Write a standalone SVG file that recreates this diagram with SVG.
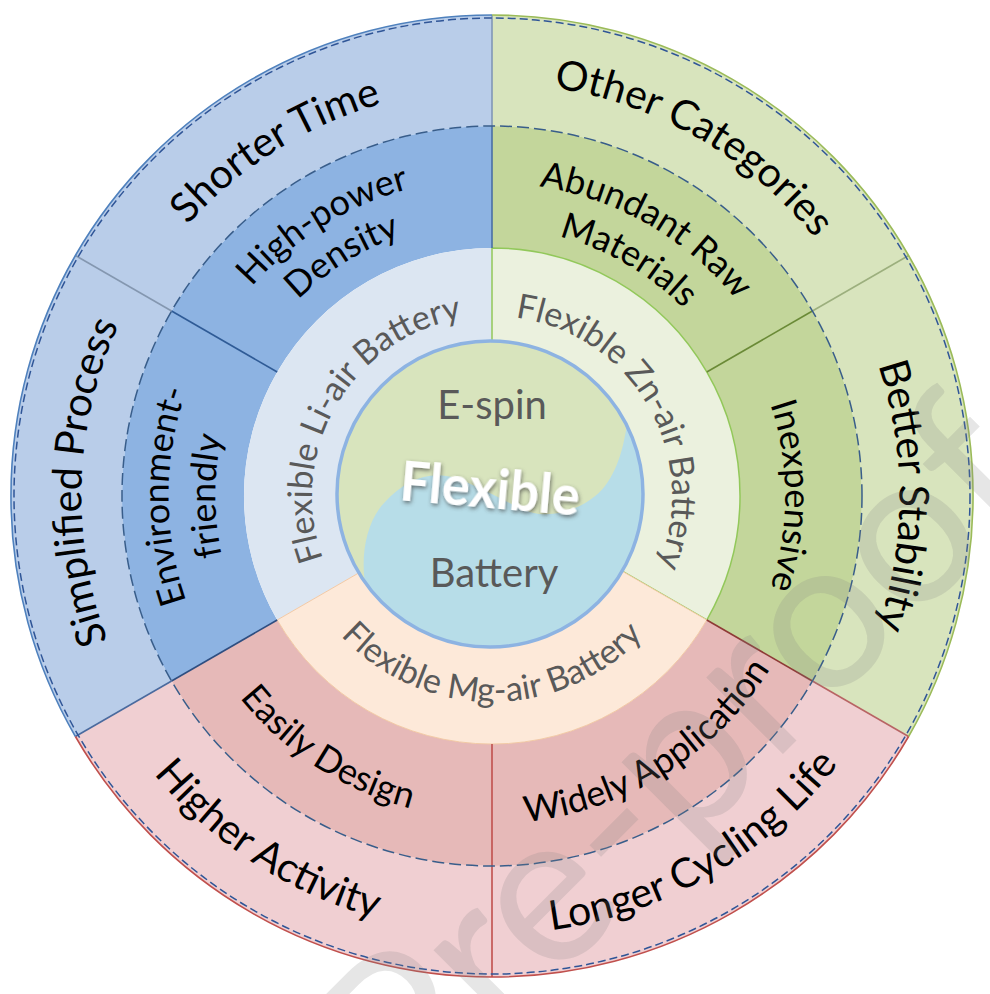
<svg xmlns="http://www.w3.org/2000/svg" width="990" height="994" viewBox="0 0 990 994">
<style>
text { font-family: Lato, "Liberation Sans", sans-serif; }
.inner { font-size: 34px; fill: #595959; }
.mid { font-size: 36px; fill: #000000; }
.outer { font-size: 41px; fill: #000000; }
.core { font-size: 40px; fill: #595959; }
.sep { fill: none; stroke-width: 1.6; }
</style>
<defs>
<filter id="shadow" x="-20%" y="-40%" width="140%" height="180%">
<feDropShadow dx="1" dy="2" stdDeviation="2.2" flood-color="#3a3a3a" flood-opacity="0.7"/>
</filter>
<clipPath id="coreClip"><circle cx="490" cy="494" r="153"/></clipPath>
<path id="p-li" d="M 388.8 643.5 A 180 180 0 0 1 568.1 332.9"/>
<path id="p-zn" d="M 415.9 332.9 A 180 180 0 0 1 595.2 643.5"/>
<path id="p-mg" d="M 286.8 514.0 A 206 206 0 0 0 697.2 514.0"/>
<path id="p-hp1" d="M 208.7 640.5 A 318 318 0 0 1 746.0 304.6"/>
<path id="p-hp2" d="M 246.1 621.3 A 276 276 0 0 1 712.4 329.9"/>
<path id="p-env1" d="M 463.8 817.8 A 323 323 0 0 1 463.8 174.2"/>
<path id="p-env2" d="M 467.9 771.0 A 276 276 0 0 1 467.9 221.0"/>
<path id="p-easy" d="M 206.8 344.4 A 323 323 0 0 0 746.5 694.9"/>
<path id="p-wide" d="M 230.1 693.4 A 328 328 0 0 0 784.2 347.1"/>
<path id="p-inexp" d="M 517.5 204.1 A 293 293 0 0 1 517.5 787.9"/>
<path id="p-ab1" d="M 235.6 316.5 A 313 313 0 0 1 775.7 628.3"/>
<path id="p-ab2" d="M 272.5 342.3 A 268 268 0 0 1 734.9 609.3"/>
<path id="p-short" d="M 128.5 681.2 A 408 408 0 0 1 817.8 250.5"/>
<path id="p-simp" d="M 441.9 903.9 A 411 411 0 0 1 470.5 85.6"/>
<path id="p-higher" d="M 105.3 290.4 A 438 438 0 0 0 837.1 765.7"/>
<path id="p-longer" d="M 133.2 747.2 A 438 438 0 0 0 889.0 310.9"/>
<path id="p-better" d="M 527.6 89.6 A 408 408 0 0 1 527.6 902.4"/>
<path id="p-other" d="M 153.7 259.1 A 413 413 0 0 1 866.3 670.5"/>
</defs>

<g id="outer-ring">
<g id="shorter-time">
<path d="M 75.4 255.5 A 481 481 0 0 1 492 15 L 492 126 A 370 370 0 0 0 171.6 311 Z" fill="#B9CDE9"/>
<text class="outer"><textPath href="#p-short" startOffset="50%" text-anchor="middle">Shorter Time</textPath></text>
</g>
<g id="simplified-process">
<path d="M 75.4 736.5 A 481 481 0 0 1 75.4 255.5 L 171.6 311 A 370 370 0 0 0 171.6 681 Z" fill="#B9CDE9"/>
<text class="outer"><textPath href="#p-simp" startOffset="50%" text-anchor="middle">Simplified Process</textPath></text>
</g>
<g id="higher-activity">
<path d="M 492 977 A 481 481 0 0 1 75.4 736.5 L 171.6 681 A 370 370 0 0 0 492 866 Z" fill="#F0CFD2"/>
<text class="outer"><textPath href="#p-higher" startOffset="50%" text-anchor="middle">Higher Activity</textPath></text>
</g>
<g id="longer-cycling-life">
<path d="M 908.6 736.5 A 481 481 0 0 1 492 977 L 492 866 A 370 370 0 0 0 812.4 681 Z" fill="#F0CFD2"/>
<text class="outer"><textPath href="#p-longer" startOffset="50%" text-anchor="middle">Longer Cycling Life</textPath></text>
</g>
<g id="better-stability">
<path d="M 908.6 255.5 A 481 481 0 0 1 908.6 736.5 L 812.4 681 A 370 370 0 0 0 812.4 311 Z" fill="#D8E4BD"/>
<text class="outer"><textPath href="#p-better" startOffset="50%" text-anchor="middle">Better Stability</textPath></text>
</g>
<g id="other-categories">
<path d="M 492 15 A 481 481 0 0 1 908.6 255.5 L 812.4 311 A 370 370 0 0 0 492 126 Z" fill="#D8E4BD"/>
<text class="outer"><textPath href="#p-other" startOffset="50%" text-anchor="middle">Other Categories</textPath></text>
</g>
</g>

<g id="middle-ring">
<g id="high-power-density">
<path d="M 171.6 311 A 370 370 0 0 1 492 126 L 492 248 A 248 248 0 0 0 277.2 372 Z" fill="#8DB3E2"/>
<text class="mid"><textPath href="#p-hp1" startOffset="50%" text-anchor="middle">High-power</textPath></text>
<text class="mid"><textPath href="#p-hp2" startOffset="50%" text-anchor="middle">Density</textPath></text>
</g>
<g id="environment-friendly">
<path d="M 171.6 681 A 370 370 0 0 1 171.6 311 L 277.2 372 A 248 248 0 0 0 277.2 620 Z" fill="#8DB3E2"/>
<text class="mid"><textPath href="#p-env1" startOffset="50%" text-anchor="middle">Environment-</textPath></text>
<text class="mid"><textPath href="#p-env2" startOffset="50%" text-anchor="middle">friendly</textPath></text>
</g>
<g id="easily-design">
<path d="M 492 866 A 370 370 0 0 1 171.6 681 L 277.2 620 A 248 248 0 0 0 492 744 Z" fill="#E6B9B8"/>
<text class="mid"><textPath href="#p-easy" startOffset="50%" text-anchor="middle">Easily Design</textPath></text>
</g>
<g id="widely-application">
<path d="M 812.4 681 A 370 370 0 0 1 492 866 L 492 744 A 248 248 0 0 0 706.8 620 Z" fill="#E6B9B8"/>
<text class="mid"><textPath href="#p-wide" startOffset="50%" text-anchor="middle">Widely Application</textPath></text>
</g>
<g id="inexpensive">
<path d="M 812.4 311 A 370 370 0 0 1 812.4 681 L 706.8 620 A 248 248 0 0 0 706.8 372 Z" fill="#C3D69B"/>
<text class="mid"><textPath href="#p-inexp" startOffset="50%" text-anchor="middle">Inexpensive</textPath></text>
</g>
<g id="abundant-raw-materials">
<path d="M 492 126 A 370 370 0 0 1 812.4 311 L 706.8 372 A 248 248 0 0 0 492 248 Z" fill="#C3D69B"/>
<text class="mid"><textPath href="#p-ab1" startOffset="50%" text-anchor="middle">Abundant Raw</textPath></text>
<text class="mid"><textPath href="#p-ab2" startOffset="50%" text-anchor="middle">Materials</textPath></text>
</g>
</g>

<g id="inner-ring">
<g id="li-air">
<path d="M 492 496 L 277.2 620 A 248 248 0 0 1 492 248 Z" fill="#DCE6F2"/>
<text class="inner"><textPath href="#p-li" startOffset="50%" text-anchor="middle">Flexible Li-air Battery</textPath></text>
</g>
<g id="zn-air">
<path d="M 492 496 L 492 248 A 248 248 0 0 1 706.8 620 Z" fill="#EBF1DE" stroke="#92C85A" stroke-width="1.5"/>
<text class="inner"><textPath href="#p-zn" startOffset="50%" text-anchor="middle">Flexible Zn-air Battery</textPath></text>
</g>
<g id="mg-air">
<path d="M 492 496 L 706.8 620 A 248 248 0 0 1 277.2 620 Z" fill="#FDE9D9" stroke="#F2C9A5" stroke-width="1"/>
<text class="inner"><textPath href="#p-mg" startOffset="50%" text-anchor="middle">Flexible Mg-air Battery</textPath></text>
</g>
</g>

<g id="dividers">
<line x1="492" y1="15" x2="492" y2="126" class="sep" stroke="#8196B6"/>
<line x1="492" y1="126" x2="492" y2="248" class="sep" stroke="#4A6FA5"/>
<line x1="75.4" y1="255.5" x2="171.6" y2="311" class="sep" stroke="#8497B0"/>
<line x1="171.6" y1="311" x2="277.2" y2="372" class="sep" stroke="#2F5B96"/>
<line x1="75.4" y1="736.5" x2="171.6" y2="681" class="sep" stroke="#4A6A9E"/>
<line x1="171.6" y1="681" x2="277.2" y2="620" class="sep" stroke="#2E4E80"/>
<line x1="908.6" y1="255.5" x2="812.4" y2="311" class="sep" stroke="#9CAF7D"/>
<line x1="812.4" y1="311" x2="706.8" y2="372" class="sep" stroke="#6A8A36"/>
<line x1="908.6" y1="736.5" x2="812.4" y2="681" class="sep" stroke="#B86464"/>
<line x1="812.4" y1="681" x2="706.8" y2="620" class="sep" stroke="#8E3A36"/>
<line x1="492" y1="977" x2="492" y2="744" class="sep" stroke="#C0504D"/>
<path d="M 75.4 736.5 A 481 481 0 0 1 492 15" class="sep" stroke="#4F81BD"/>
<path d="M 492 15 A 481 481 0 0 1 908.6 736.5" class="sep" stroke="#9BBB59"/>
<path d="M 908.6 736.5 A 481 481 0 0 1 75.4 736.5" class="sep" stroke="#C0504D"/>
<circle cx="492" cy="496" r="478" fill="none" stroke="#2F5597" stroke-width="1.5" stroke-dasharray="8 4"/>
<circle cx="492" cy="496" r="370" fill="none" stroke="#385D8A" stroke-width="1.5" stroke-dasharray="12 5"/>
</g>

<g id="core">
<circle cx="490" cy="494" r="153" fill="#D8E4BD"/>
<path clip-path="url(#coreClip)" fill="#B7DDE8" d="M 630 400 L 700 400 L 700 700 L 300 700 L 300 600 L 366 588 C 360 560 365 522 385 502 C 405 480 430 470 455 478 C 480 486 500 500 530 512 C 555 520 590 506 605 486 C 620 466 626 440 630 400 Z"/>
<circle cx="490" cy="494" r="153" fill="none" stroke="#8DB3E2" stroke-width="3.5"/>
<text class="core" x="492" y="419" text-anchor="middle">E-spin</text>
<text class="core" x="494" y="587" text-anchor="middle" font-size="41">Battery</text>
<text x="490" y="508" text-anchor="middle" font-size="56" font-weight="bold" fill="#FFFFFF" filter="url(#shadow)" textLength="180" lengthAdjust="spacingAndGlyphs" transform="rotate(5 490 490)">Flexible</text>
</g>

<text x="0" y="0" font-family="Liberation Sans, sans-serif" font-size="214" fill="#808080" fill-opacity="0.2" transform="translate(410 1127) rotate(-45)">Pre-proofs</text>
</svg>
